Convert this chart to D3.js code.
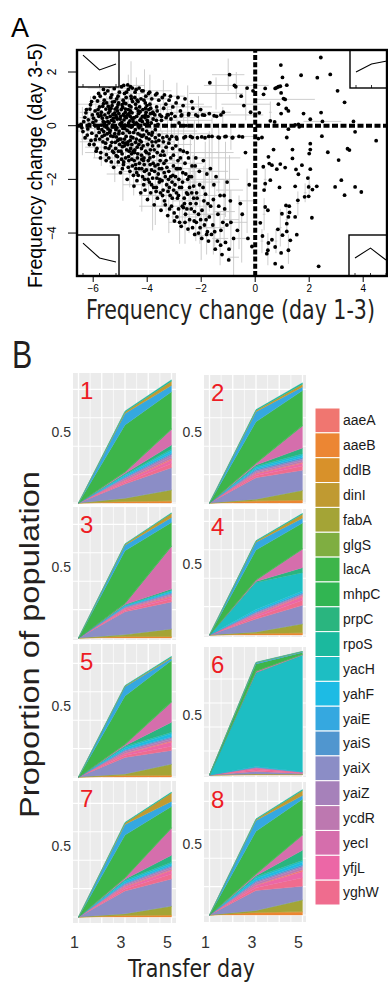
<!DOCTYPE html>
<html>
<head>
    <meta charset="utf-8">
    <title>Frequency change and population proportion</title>
    <script src="https://d3js.org/d3.v7.min.js"></script>
    <style>
        body { margin: 0; background: #fff; }
        svg { display: block; font-family: "Liberation Sans", Arial, sans-serif; }
    </style>
</head>
<body>
    <svg id="fig" width="388" height="984"></svg>

    <script>
        // ---------- panel A: frequency change scatter ----------
        const xTicksA = [-6, -4, -2, 0, 2, 4];
        const yTicksA = [2, 0, -2, -4];

        // dense cloud (day 1-3 change, day 3-5 change)
        const cloudPoints = [
            [-6.45,0.05],[-6.38,-0.22],[-6.31,0.31],[-6.42,-0.08],[-6.27,0.48],[-6.35,0.15],
            [-6.22,-0.35],[-6.18,0.22],[-6.12,0.62],[-6.08,-0.55],[-6.15,0.05],[-6.03,0.4],[-6.2,-0.12],[-6.05,-0.28],[-6.1,0.78],[-6.01,0.12],
            [-5.97,-0.7],[-5.93,0.55],[-5.9,0.18],[-5.88,-0.38],[-5.84,0.92],[-5.81,-0.1],[-5.79,0.35],[-5.95,0.02],[-5.86,-0.85],[-5.77,0.7],[-5.92,-0.52],[-5.83,0.44],[-5.78,-0.25],[-5.99,0.28],
            [-5.74,1.1],[-5.72,-1.0],[-5.7,0.5],[-5.68,-0.15],[-5.66,0.28],[-5.64,-0.6],[-5.62,0.82],[-5.6,0.05],[-5.58,-0.35],[-5.56,1.2],[-5.55,-0.82],[-5.53,0.62],[-5.52,-0.05],[-5.71,0.38],[-5.67,-0.4],[-5.59,0.95],[-5.63,0.15],[-5.51,-1.08],
            [-5.49,0.3],[-5.47,-0.5],[-5.46,1.3],[-5.44,0.72],[-5.42,-1.2],[-5.41,0.1],[-5.39,-0.25],[-5.38,0.55],[-5.36,-0.75],[-5.35,1.05],[-5.33,-1.35],[-5.32,0.2],[-5.3,-0.05],[-5.29,0.88],[-5.28,-0.95],[-5.27,0.42],[-5.26,-0.4],[-5.45,-0.12],[-5.37,0.35],[-5.31,-0.62],[-5.4,1.48],[-5.34,0.65],
            [-5.24,-1.55],[-5.23,0.15],[-5.22,1.38],[-5.2,-0.3],[-5.19,0.62],[-5.17,-0.85],[-5.16,0.38],[-5.15,-1.12],[-5.13,1.0],[-5.12,-0.08],[-5.11,0.25],[-5.09,-0.55],[-5.08,0.78],[-5.07,-1.35],[-5.05,0.45],[-5.04,-0.2],[-5.03,1.25],[-5.02,-0.7],[-5.01,0.05],[-5.21,0.9],[-5.14,-0.42],[-5.1,0.55],[-5.06,-0.95],[-5.18,1.55],
            [-4.99,-1.75],[-4.98,0.35],[-4.97,-0.5],[-4.95,1.45],[-4.94,0.12],[-4.93,-1.05],[-4.91,0.68],[-4.9,-0.28],[-4.89,0.95],[-4.88,-1.45],[-4.86,0.22],[-4.85,-0.75],[-4.84,1.2],[-4.83,-0.1],[-4.81,0.5],[-4.8,-1.2],[-4.79,0.82],[-4.78,-0.4],[-4.77,0.3],[-4.76,-0.9],[-4.96,0.6],[-4.92,-1.6],[-4.87,1.5],[-4.82,0.02],[-4.9,-0.62],[-4.78,1.05],
            [-4.74,-2.0],[-4.73,0.4],[-4.71,-0.6],[-4.7,1.35],[-4.69,0.1],[-4.68,-1.3],[-4.66,0.75],[-4.65,-0.25],[-4.64,-1.7],[-4.62,0.55],[-4.61,-0.85],[-4.6,1.1],[-4.59,-0.05],[-4.58,-1.05],[-4.56,0.28],[-4.55,-1.5],[-4.54,0.9],[-4.53,-0.45],[-4.52,0.15],[-4.51,-1.85],[-4.72,1.52],[-4.67,-0.95],[-4.63,0.35],[-4.57,-0.7],[-4.7,0.6],[-4.55,1.4],
            [-4.49,-2.25],[-4.48,0.3],[-4.46,-0.9],[-4.45,1.25],[-4.44,-0.15],[-4.42,-1.6],[-4.41,0.65],[-4.4,-0.5],[-4.38,-2.05],[-4.37,0.95],[-4.36,-1.2],[-4.35,0.05],[-4.33,-1.85],[-4.32,0.45],[-4.31,-0.7],[-4.3,1.4],[-4.29,-1.4],[-4.27,0.2],[-4.26,-0.35],[-4.47,-1.0],[-4.43,0.8],[-4.39,-1.75],[-4.34,-0.3],[-4.28,0.7],
            [-4.24,-2.5],[-4.23,0.25],[-4.21,-1.1],[-4.2,1.3],[-4.19,-0.4],[-4.17,-1.9],[-4.16,0.6],[-4.15,-0.75],[-4.13,-2.2],[-4.12,0.95],[-4.11,-1.45],[-4.09,0.05],[-4.08,-2.4],[-4.07,0.4],[-4.06,-0.95],[-4.05,1.1],[-4.03,-1.65],[-4.02,-0.2],[-4.01,0.75],[-4.22,-0.6],[-4.18,0.15],[-4.14,-1.3],[-4.1,-2.0],[-4.04,0.5],
            [-3.99,-2.75],[-3.97,0.35],[-3.96,-1.3],[-3.95,1.2],[-3.93,-0.5],[-3.92,-2.1],[-3.9,0.8],[-3.88,-0.9],[-3.87,-2.5],[-3.85,0.1],[-3.84,-1.65],[-3.83,1.0],[-3.81,-0.25],[-3.8,-1.95],[-3.79,0.5],[-3.77,-1.15],[-3.76,-2.3],[-3.98,-0.7],[-3.94,0.6],[-3.89,-1.45],[-3.82,-0.6],[-3.78,0.25],
            [-3.74,-2.95],[-3.72,0.4],[-3.71,-1.5],[-3.69,1.15],[-3.68,-0.6],[-3.66,-2.3],[-3.65,0.7],[-3.63,-1.0],[-3.62,-2.7],[-3.6,0.05],[-3.59,-1.8],[-3.57,0.95],[-3.56,-0.35],[-3.55,-2.1],[-3.53,0.4],[-3.52,-1.3],[-3.7,-0.15],[-3.64,-1.95],[-3.58,-0.75],[-3.51,-2.5],
            [-3.49,-3.15],[-3.47,0.35],[-3.46,-1.6],[-3.44,1.05],[-3.42,-0.45],[-3.41,-2.4],[-3.39,0.65],[-3.37,-1.1],[-3.36,-2.8],[-3.34,0.0],[-3.33,-1.9],[-3.31,0.8],[-3.3,-0.8],[-3.28,-2.2],[-3.27,-0.4],[-3.45,-2.05],[-3.38,-1.4],[-3.26,0.4],
            [-3.24,-3.35],[-3.22,0.4],[-3.2,-1.7],[-3.19,0.95],[-3.17,-0.5],[-3.15,-2.6],[-3.13,-1.2],[-3.12,0.25],[-3.1,-3.0],[-3.08,-2.1],[-3.06,-0.85],[-3.05,0.7],[-3.03,-1.5],[-3.02,-2.4],[-3.21,-2.0],[-3.09,-0.4],
            [-2.99,-3.55],[-2.97,0.35],[-2.95,-1.9],[-2.93,0.85],[-2.9,-0.5],[-2.88,-2.7],[-2.86,-1.3],[-2.84,-3.1],[-2.82,0.1],[-2.8,-2.3],[-2.78,-0.9],[-2.77,0.55],[-2.92,-1.6],[-2.83,-2.0],
            [-2.74,-3.75],[-2.72,0.4],[-2.69,-2.1],[-2.67,0.75],[-2.64,-0.45],[-2.62,-2.9],[-2.6,-1.4],[-2.58,-3.3],[-2.56,0.0],[-2.54,-2.5],[-2.52,-1.0],[-2.68,-1.75],
            [-2.49,-3.85],[-2.46,0.45],[-2.43,-2.3],[-2.4,-0.4],[-2.37,-3.1],[-2.34,-1.5],[-2.31,0.65],[-2.28,-2.7],[-2.26,-3.55],[-2.45,-1.9],
            [-2.24,-4.05],[-2.2,0.4],[-2.17,-2.5],[-2.14,-0.45],[-2.1,-3.3],[-2.07,-1.7],[-2.04,-3.8],[-2.02,0.6],[-2.19,-2.9],
            [-1.98,-4.2],[-1.95,0.4],[-1.9,-2.8],[-1.86,-0.45],[-1.82,-3.5],[-1.79,-1.8],[-1.77,-3.95],[-1.93,-2.3],
            [-1.73,-4.3],[-1.7,0.45],[-1.65,-3.0],[-1.6,-0.4],[-1.57,-3.7],[-1.53,-2.2],[-1.68,1.6],
            [-1.48,-4.6],[-1.43,0.35],[-1.38,-3.3],[-1.33,-0.45],[-1.3,-2.6],[-1.27,-3.9],
            [-1.23,-4.8],[-1.18,0.5],[-1.13,-3.1],[-1.08,-0.4],[-1.04,-2.1],[-1.1,-4.35],
            [-0.98,-5.0],[-0.95,1.9],[-0.9,-3.6],[-0.85,-0.45],[-0.8,-4.2],[-0.77,1.5],
            [-0.72,1.45],[-0.66,-3.9],[-0.6,-0.4],[-0.55,-2.9],[-0.52,1.1],
            [-0.48,-3.3],[-0.42,0.75],[-0.36,-1.0],[-0.3,1.4],[-0.27,-4.2],
            [-0.22,-2.2],[-0.17,0.5],[-0.12,-4.5],[-0.08,1.3],
            [-5.58,0.12],[-5.48,-0.3],[-5.43,0.48],[-5.37,-0.18],[-5.25,0.28],[-5.18,-0.62],[-5.12,0.68],[-5.05,-0.3],[-4.98,0.08],[-4.92,-0.78],
            [-4.88,0.42],[-4.84,-0.5],[-4.8,0.62],[-4.74,-0.18],[-4.69,-1.15],[-4.64,0.18],[-4.6,-0.42],[-4.56,0.48],[-4.52,-0.95],[-4.47,0.05],
            [-4.43,-0.62],[-4.39,0.35],[-4.35,-1.05],[-4.3,-0.08],[-4.26,0.52],[-4.21,-0.85],[-4.17,-0.15],[-4.12,-1.2],[-4.08,0.3],[-4.03,-0.45],
            [-3.98,0.12],[-3.93,-1.05],[-3.88,0.45],[-3.83,-0.35],[-3.78,-1.4],[-5.3,0.75],[-5.22,-0.05],[-5.08,1.1],[-4.95,-1.25],[-4.86,0.85],
            [-4.72,-0.7],[-4.58,1.0],[-4.48,-1.3],[-4.34,0.9],[-4.2,-1.6],[-4.06,0.65],[-3.92,-1.8],[-3.74,-0.9],[-3.66,0.2],[-3.55,-1.6],
            [-3.42,-0.95],[-3.3,-1.3],[-3.18,-2.3],[-3.05,-1.85],[-2.92,-2.5],[-2.78,-1.6],[-2.66,-3.05],[-2.5,-2.0],[-2.35,-2.5],[-2.2,-1.2],
            [-5.82,0.6],[-5.76,-0.5],[-5.7,0.02],[-5.65,0.72],[-5.61,-0.22],[-5.57,0.4],[-5.54,-0.65],[-5.5,0.85],[-5.46,0.15],[-5.42,-0.85],
            [-5.39,0.62],[-5.35,-0.38],[-5.31,1.15],[-5.28,0.02],[-5.24,-1.0],[-5.2,0.48],[-5.16,-0.15],[-5.13,0.3],[-5.1,-1.15],[-5.06,0.85],
            [-5.03,-0.5],[-5.0,0.25],[-4.97,-0.95],[-4.93,0.78],[-4.9,-0.1],[-4.87,-1.35],[-4.83,0.35],[-4.8,-0.65],[-4.77,1.25],[-4.73,0.0],
            [-4.7,-1.55],[-4.67,0.45],[-4.63,-0.55],[-4.6,0.7],[-4.57,-1.25],[-4.53,0.25],[-4.5,-0.25],[-4.46,1.05],[-4.43,-1.45],[-4.4,0.1],
            [-4.37,-0.8],[-4.33,0.55],[-4.3,-1.6],[-4.27,-0.55],[-4.23,1.0],[-4.2,-1.25],[-4.17,0.35],[-4.13,-0.35],[-4.1,-1.7],[-4.07,0.85],
            [-4.03,-1.0],[-4.0,0.2],[-3.97,-2.0],[-3.94,-0.3],[-3.9,-1.2],[-3.87,0.65],[-3.84,-2.2],[-3.8,-0.75],[-3.77,0.45],[-3.73,-1.7],
            [-3.7,-0.45],[-3.67,-2.45],[-3.63,0.55],[-3.6,-1.45],[-3.57,-0.55],[-3.53,-2.0],[-3.5,-1.1],[-3.47,0.2],[-3.43,-2.6],[-3.4,-0.6],
            [-3.37,-1.75],[-3.33,-2.95],[-3.3,0.3],[-3.27,-1.55],[-3.23,-2.45],[-3.2,-0.65],[-3.17,-3.1],[-3.13,-1.9],[-3.1,0.45],[-3.07,-2.7],
            [-3.03,-1.1],[-3.0,-3.25],[-2.97,-2.2],[-2.94,-0.75],[-2.9,-3.4],[-2.87,-1.6],[-2.84,-2.6],[-2.8,-3.6],[-2.77,-1.2],[-2.73,-2.3],
            [-2.7,-3.0],[-2.66,-0.95],[-2.63,-2.7],[-2.6,-3.6],[-2.57,-1.8],[-2.53,-3.1],[-2.5,-2.55],[-2.47,-1.2],[-2.43,-3.5],[-2.4,-2.9],
            [-2.36,-1.9],[-2.32,-3.8],[-2.28,-2.25],[-2.25,-3.2],[-2.22,-1.5],[-2.18,-3.6],[-2.15,-2.7],[-2.1,-4.0],[-2.06,-2.2],[-2.02,-3.5],
            [-1.97,-3.15],[-1.92,-1.3],[-1.88,-3.7],[-1.84,-2.55],[-1.8,-4.05],[-1.75,-2.9],[-1.7,-3.4],[-1.66,-1.6],[-1.62,-4.05],[-1.55,-2.75],
            [-1.5,-3.95],[-1.45,-1.9],[-1.4,-4.3],[-1.35,-3.0],[-1.28,-4.45],[-1.2,-3.6],[-1.15,-2.6],[-1.05,-3.7],[-0.97,-4.6],[-0.92,-2.8],
            [-6.3,-0.45],[-6.25,0.6],[-6.14,-0.7],[-6.06,0.9],[-5.96,1.05],[-5.89,-0.95],[-5.8,1.2],[-5.73,-1.2],[-5.62,1.35],[-5.52,-1.3],
            [-4.62,1.45],[-4.41,1.35],[-4.15,1.3],[-3.91,1.25],[-3.64,1.2],[-3.36,1.15],[-3.14,1.1],[-2.86,1.05],[-2.6,1.0],[-2.35,0.9],
            [-2.74,0.37],[-2.47,0.4],[-2.13,0.36],[-1.88,0.39],[-1.52,0.37],[-1.27,0.4],[-2.92,-0.43],[-2.58,-0.41],[-2.33,-0.44],[-1.98,-0.42],
            [-1.72,-0.4],[-1.37,-0.43],[-1.12,-0.41],[-0.83,-0.44],[-0.47,-0.42]
        ];

        const rightPoints = [
            [2.43,2.54],[0.95,2.26],[1.70,1.88],[1.01,1.80],[2.30,1.79],[2.78,1.91],[0.37,1.39],[0.74,1.39],[0.80,1.42],[0.86,1.45],
            [0.93,1.47],[1.17,1.51],[0.96,1.22],[0.31,1.17],[3.05,1.30],[1.11,0.98],[1.05,1.01],[0.86,0.80],[3.31,0.87],[0.15,0.48],
            [0.96,0.45],[1.15,0.64],[1.23,0.55],[1.79,0.45],[2.44,0.49],[2.04,0.24],[0.56,0.18],[0.72,0.14],[1.48,0.03],[1.60,0.05],
            [1.23,-0.13],[1.63,-0.04],[2.49,0.16],[3.64,0.16],[3.70,-0.23],[0.25,-0.44],[1.17,-0.44],[4.48,-0.56],[2.47,-0.39],[2.04,-0.67],
            [0.12,-0.48],[0.68,-0.89],[2.04,-0.89],[2.00,-1.04],[1.38,-0.89],[2.69,-0.99],[3.42,-0.86],[3.49,-0.91],[0.49,-1.16],[1.38,-1.22],
            [0.52,-1.41],[0.62,-1.47],[0.30,-1.53],[0.93,-1.43],[1.11,-1.56],[0.80,-1.62],[1.51,-1.63],[1.73,-1.47],[1.60,-1.81],[2.04,-1.62],
            [3.09,-1.28],[0.37,-2.16],[0.56,-2.03],[0.90,-2.30],[1.48,-2.26],[1.95,-1.95],[1.98,-2.28],[2.28,-2.26],[2.96,-2.28],[3.31,-2.59],
            [3.70,-2.28],[3.93,-2.47],[3.19,-2.03],[0.33,-2.40],[0.37,-3.03],[0.47,-3.15],[1.26,-3.00],[1.14,-2.97],[0.99,-3.28],[1.27,-3.23],
            [1.23,-3.40],[1.58,-2.78],[1.83,-2.65],[1.98,-2.63],[2.12,-2.38],[2.10,-3.43],[0.19,-3.62],[1.17,-3.65],[1.48,-3.40],[0.84,-3.86],
            [1.17,-3.94],[1.01,-4.08],[1.54,-4.06],[0.27,-4.11],[0.62,-4.25],[0.49,-4.37],[0.74,-4.52],[1.30,-4.27],[1.23,-4.64],[0.47,-4.64],
            [0.43,-4.77],[0.96,-4.74],[0.74,-5.14],[0.99,-5.27],[2.35,-5.24]
        ];

        // error bars: x, y, half-width in x, half-width in y
        const errorBars = [
            [-5.9,0.3,0.6,0.8],[-5.6,-0.6,0.9,0.7],[-5.4,0.9,0.7,1.0],[-5.2,-1.2,0.8,0.9],[-5.0,0.5,1.0,0.8],
            [-4.8,-0.3,1.1,1.0],[-4.7,1.2,0.6,0.7],[-4.5,-1.5,0.9,1.1],[-4.3,0.6,1.2,0.6],[-4.2,-2.2,0.7,1.0],
            [-4.0,-0.8,1.0,1.2],[-3.9,1.0,0.8,0.9],[-3.7,-2.6,0.6,1.1],[-3.6,-1.3,0.9,0.9],[-3.5,0.3,1.3,0.5],
            [-3.3,-2.0,0.7,1.2],[-3.2,-3.0,0.5,1.0],[-3.0,-1.0,0.8,1.1],[-2.9,0.8,1.0,0.8],[-2.7,-2.4,0.6,1.3],
            [-2.6,-3.4,0.5,1.0],[-2.4,-1.6,0.7,1.2],[-2.2,-3.0,0.4,1.3],[-2.1,0.5,1.2,0.6],[-1.9,-2.6,0.5,1.1],
            [-1.8,-3.8,0.3,1.0],[-1.6,-1.0,0.8,1.3],[-1.5,-3.3,0.4,1.2],[-1.3,-4.2,0.3,1.0],[-1.1,-2.0,0.5,1.4],
            [-0.9,-3.5,0.3,1.1],[-0.7,1.5,1.2,0.5],[-0.5,-4.2,0.2,0.9],[-0.3,-2.8,0.3,1.2],[-6.2,0.1,0.5,0.6],
            [-6.4,-0.2,0.3,0.9],[-5.3,1.4,0.9,0.6],[-4.9,-1.8,0.6,1.0],[-4.6,1.5,0.5,0.9],[-4.1,1.3,1.0,0.8],
            [-3.8,-3.0,0.5,0.9],[-3.4,1.1,0.8,0.6],[-2.8,-3.6,0.4,0.8],[-2.5,0.7,0.9,0.8],[-2.0,-4.1,0.3,0.9],
            [-1.2,0.4,1.5,0.3],[-1.0,1.9,0.6,0.6],[-0.8,-4.9,0.2,0.7],[-5.7,-1.0,0.6,0.5],[-5.1,-0.1,1.3,1.4],
            [-4.4,-0.6,1.4,1.3],[-3.95,-1.7,1.1,1.1],[-3.1,0.2,1.5,0.6],[-2.3,-2.1,1.0,1.0],[-1.7,-1.7,0.7,1.5],
            [-5.5,0.0,0.8,1.1],[-5.3,-0.8,1.0,0.7],[-5.05,1.0,0.7,0.9],[-4.85,0.2,1.3,0.6],[-4.65,-1.0,0.9,1.3],
            [-4.4,1.0,1.1,0.8],[-4.25,-0.3,1.0,1.1],[-4.05,-1.4,1.2,0.9],[-3.85,0.3,0.9,1.0],[-3.65,-0.7,1.3,1.2],
            [-3.45,-1.6,0.8,1.4],[-3.25,-0.2,1.1,0.9],[-3.05,-2.4,0.7,1.2],[-2.85,-1.4,0.9,1.3],[-2.65,-0.3,1.0,0.8],
            [-2.45,-2.8,0.6,1.2],[-2.25,-1.0,0.9,1.2],[-2.05,-3.3,0.5,1.1],[-1.85,-2.0,0.7,1.4],[-1.55,-3.8,0.4,1.0],
            [-1.35,-1.2,0.8,1.3],[-1.15,-3.2,0.4,1.2],[-0.95,-2.4,0.5,1.3],[-0.6,-3.6,0.3,1.0],[-0.35,0.8,0.9,0.6],
            [-5.95,-0.5,0.5,0.7],[-6.1,0.5,0.4,0.6],[-5.75,0.8,0.9,0.6],[-1.45,1.2,1.0,0.6],[-0.9,-0.4,1.0,0.5],
            [0.25,-4.3,0.05,0.45],[0.47,-4.6,0.05,0.6],[0.77,-4.3,0.05,0.45],[1.17,-3.5,0.05,0.5],[1.23,-4.6,0.05,0.55],
            [1.58,-2.9,0.05,0.45],[1.85,-2.5,0.05,0.35],[2.0,-2.2,0.05,0.35],[0.56,0.5,0.05,0.4],[0.37,-2.0,0.05,0.4],
            [1.11,0.98,1.1,0.05],[2.49,0.16,0.7,0.05],[0.33,-3.3,0.05,0.6],[0.93,-3.8,0.05,0.7]
        ];

        // small trajectory insets (relative frequency at day 1, 3, 5)
        const insetDays = [1, 3, 5];
        const insetTopLeft = [0.86, 0.46, 0.62];
        const insetTopRight = [0.42, 0.63, 0.71];
        const insetBottomLeft = [0.80, 0.44, 0.34];
        const insetBottomRight = [0.44, 0.68, 0.39];

        // ---------- panel B: stacked proportions ----------
        const genes = ["aaeA","aaeB","ddlB","dinI","fabA","glgS","lacA","mhpC","prpC","rpoS",
                       "yacH","yahF","yaiE","yaiS","yaiX","yaiZ","ycdR","yecI","yfjL","yghW"];
        const geneColors = ["#F07670","#EC8633","#D8912A","#C09A31","#A4A436","#7FAE41","#3DB54A","#31B552","#2AB57F","#1BB99E",
                            "#1DBEC3","#1DBBE4","#35A8E0","#5096CF","#8B8DC6","#A681BA","#BD78B0","#D56EAC","#EC67A6","#EF6C8E"];
        // bottom to top
        const stackOrder = ["aaeB","ddlB","fabA","glgS","yaiX","yghW","yfjL","aaeA","ycdR","yaiZ",
                            "yaiS","yahF","yacH","prpC","yecI","mhpC","lacA","yaiE","dinI","rpoS"];
        const days = [1, 3, 5];
        const dayTicks = [1, 3, 5];
        const panelNames = ["1","2","3","4","5","6","7","8"];

        // proportion per gene (legend order) at day 1, 3, 5
        const panel1 = [[0,0.005,0.008],[0,0.008,0.01],[0,0.003,0.005],[0,0.01,0.03],[0,0.02,0.075],[0,0.002,0.003],[0,0.33,0.26],[0,0.003,0.005],[0,0.006,0.03],[0,0.008,0.01],
                        [0,0.008,0.012],[0,0.01,0.015],[0,0.08,0.045],[0,0.005,0.01],[0,0.10,0.155],[0,0.008,0.015],[0,0.01,0.015],[0,0.01,0.11],[0,0.01,0.025],[0,0.012,0.03]];
        const panel2 = [[0,0.005,0.006],[0,0.012,0.018],[0,0.003,0.004],[0,0.01,0.02],[0,0.01,0.065],[0,0.002,0.003],[0,0.29,0.245],[0,0.003,0.005],[0,0.008,0.04],[0,0.006,0.01],
                        [0,0.01,0.012],[0,0.012,0.015],[0,0.07,0.025],[0,0.008,0.01],[0,0.15,0.14],[0,0.01,0.012],[0,0.01,0.012],[0,0.012,0.155],[0,0.012,0.02],[0,0.015,0.03]];
        const panel3 = [[0,0.004,0.006],[0,0.008,0.008],[0,0.002,0.003],[0,0.006,0.028],[0,0.012,0.05],[0,0.002,0.003],[0,0.37,0.165],[0,0.002,0.004],[0,0.004,0.01],[0,0.004,0.005],
                        [0,0.004,0.006],[0,0.006,0.01],[0,0.04,0.035],[0,0.004,0.006],[0,0.16,0.19],[0,0.006,0.008],[0,0.006,0.01],[0,0.006,0.30],[0,0.008,0.015],[0,0.01,0.02]];
        const panel4 = [[0,0.004,0.006],[0,0.008,0.012],[0,0.002,0.004],[0,0.006,0.028],[0,0.01,0.06],[0,0.002,0.003],[0,0.21,0.18],[0,0.003,0.004],[0,0.006,0.035],[0,0.005,0.006],
                        [0,0.19,0.13],[0,0.015,0.012],[0,0.055,0.035],[0,0.006,0.008],[0,0.09,0.13],[0,0.008,0.006],[0,0.008,0.008],[0,0.01,0.13],[0,0.012,0.025],[0,0.015,0.035]];
        const panel5 = [[0,0.004,0.008],[0,0.008,0.01],[0,0.002,0.003],[0,0.005,0.008],[0,0.01,0.075],[0,0.002,0.003],[0,0.34,0.29],[0,0.003,0.005],[0,0.006,0.07],[0,0.004,0.006],
                        [0,0.01,0.012],[0,0.012,0.02],[0,0.065,0.015],[0,0.006,0.008],[0,0.115,0.095],[0,0.008,0.01],[0,0.01,0.012],[0,0.008,0.14],[0,0.012,0.03],[0,0.015,0.03]];
        const panel6 = [[0,0.002,0.001],[0,0.004,0.003],[0,0.002,0.001],[0,0.002,0.002],[0,0.002,0.002],[0,0.001,0.001],[0,0.06,0.015],[0,0.002,0.001],[0,0.004,0.003],[0,0.002,0.002],
                        [0,0.78,0.97],[0,0.003,0.002],[0,0.01,0.006],[0,0.002,0.001],[0,0.02,0.006],[0,0.004,0.002],[0,0.006,0.002],[0,0.01,0.004],[0,0.012,0.003],[0,0.012,0.004]];
        const panel7 = [[0,0.004,0.006],[0,0.008,0.01],[0,0.003,0.004],[0,0.01,0.06],[0,0.01,0.06],[0,0.002,0.003],[0,0.30,0.15],[0,0.003,0.004],[0,0.006,0.05],[0,0.005,0.006],
                        [0,0.01,0.01],[0,0.012,0.012],[0,0.075,0.035],[0,0.006,0.008],[0,0.16,0.19],[0,0.008,0.01],[0,0.01,0.012],[0,0.008,0.19],[0,0.012,0.025],[0,0.015,0.035]];
        const panel8 = [[0,0.005,0.01],[0,0.015,0.02],[0,0.003,0.004],[0,0.008,0.035],[0,0.012,0.08],[0,0.002,0.003],[0,0.30,0.25],[0,0.003,0.005],[0,0.008,0.07],[0,0.005,0.008],
                        [0,0.012,0.012],[0,0.015,0.02],[0,0.075,0.025],[0,0.008,0.01],[0,0.14,0.095],[0,0.01,0.012],[0,0.012,0.015],[0,0.01,0.105],[0,0.015,0.045],[0,0.02,0.06]];
        const panels = [panel1, panel2, panel3, panel4, panel5, panel6, panel7, panel8];

        const svg = d3.select("#fig");
        const defs = svg.append("defs");

        // ================= A =================
        const xA = d3.scaleLinear().domain([-6.6, 4.9]).range([77, 387.5]);
        const yA = d3.scaleLinear().domain([-5.6, 2.82]).range([276, 50]);

        defs.append("clipPath").attr("id", "clipA")
            .append("rect").attr("x", 77).attr("y", 50).attr("width", 311).attr("height", 226);

        const plotA = svg.append("g").attr("clip-path", "url(#clipA)");

        const bars = plotA.append("g").attr("stroke", "#c8c8c8").attr("stroke-width", 0.9);
        errorBars.forEach(([x, y, ex, ey]) => {
            bars.append("line")
                .attr("x1", xA(x - ex)).attr("x2", xA(x + ex))
                .attr("y1", yA(y)).attr("y2", yA(y));
            bars.append("line")
                .attr("x1", xA(x)).attr("x2", xA(x))
                .attr("y1", yA(y - ey)).attr("y2", yA(y + ey));
        });

        plotA.append("g")
            .selectAll("circle")
            .data(cloudPoints.concat(rightPoints))
            .join("circle")
            .attr("cx", d => xA(d[0]))
            .attr("cy", d => yA(d[1]))
            .attr("r", 1.9)
            .attr("fill", "#000");

        // points sitting exactly on zero change form dotted lines
        plotA.append("line")
            .attr("x1", xA(0)).attr("x2", xA(0))
            .attr("y1", yA.range()[0]).attr("y2", yA.range()[1])
            .attr("stroke", "#000").attr("stroke-width", 4)
            .attr("stroke-dasharray", "5 2.2");
        plotA.append("line")
            .attr("x1", xA.range()[0]).attr("x2", 390)
            .attr("y1", yA(0)).attr("y2", yA(0))
            .attr("stroke", "#000").attr("stroke-width", 4)
            .attr("stroke-dasharray", "6 2.5");

        const insets = [
            { vals: insetTopLeft, x: 77, y: 50, w: 42, h: 37 },
            { vals: insetTopRight, x: 350, y: 50, w: 40, h: 38 },
            { vals: insetBottomLeft, x: 77, y: 235, w: 42, h: 41 },
            { vals: insetBottomRight, x: 349, y: 235, w: 40, h: 41 }
        ];
        insets.forEach(b => {
            const g = plotA.append("g");
            g.append("rect")
                .attr("x", b.x).attr("y", b.y).attr("width", b.w).attr("height", b.h)
                .attr("fill", "#fff").attr("stroke", "#000").attr("stroke-width", 1.4);
            const ix = d3.scaleLinear().domain([1, 5]).range([b.x + 6, b.x + b.w - 3]);
            const iy = d3.scaleLinear().domain([0, 1]).range([b.y + b.h, b.y]);
            g.append("path")
                .datum(insetDays.map((d, i) => [d, b.vals[i]]))
                .attr("d", d3.line().x(d => ix(d[0])).y(d => iy(d[1])))
                .attr("fill", "none").attr("stroke", "#000").attr("stroke-width", 1.1);
            insetDays.forEach(d => {
                g.append("line")
                    .attr("x1", ix(d)).attr("x2", ix(d))
                    .attr("y1", b.y + b.h).attr("y2", b.y + b.h - 3)
                    .attr("stroke", "#000").attr("stroke-width", 0.8);
            });
        });

        svg.append("rect")
            .attr("x", 77).attr("y", 50).attr("width", 310).attr("height", 226)
            .attr("fill", "none").attr("stroke", "#000").attr("stroke-width", 2.4);

        const minus = t => t < 0 ? "\u2212" + Math.abs(t) : String(t);

        const axA = svg.append("g");
        xTicksA.forEach(t => {
            axA.append("line")
                .attr("x1", xA(t)).attr("x2", xA(t)).attr("y1", 277).attr("y2", 282)
                .attr("stroke", "#000").attr("stroke-width", 1);
            axA.append("text")
                .attr("x", xA(t)).attr("y", 292)
                .attr("text-anchor", "middle").attr("font-size", 10)
                .text(minus(t));
        });
        yTicksA.forEach(t => {
            axA.append("line")
                .attr("x1", 68).attr("x2", 77).attr("y1", yA(t)).attr("y2", yA(t))
                .attr("stroke", "#000").attr("stroke-width", 1);
            axA.append("text")
                .attr("transform", `translate(56,${yA(t)}) rotate(-90)`)
                .attr("text-anchor", "middle").attr("font-size", 12)
                .text(minus(t));
        });

        svg.append("text").attr("x", 11).attr("y", 37)
            .attr("font-size", 27).text("A");
        svg.append("text")
            .attr("transform", "translate(42,288) rotate(-90)")
            .attr("font-size", 20)
            .attr("textLength", 245).attr("lengthAdjust", "spacingAndGlyphs")
            .text("Frequency change (day 3-5)");
        svg.append("text")
            .attr("transform", "translate(86,319) scale(1,1.15)")
            .attr("font-family", "'Liberation Sans Narrow', 'DejaVu Sans Condensed', sans-serif")
            .attr("font-size", 23).attr("fill", "#231f20")
            .attr("textLength", 289).attr("lengthAdjust", "spacingAndGlyphs")
            .text("Frequency change (day 1-3)");

        // ================= B =================
        svg.append("text")
            .attr("transform", "translate(12,368) scale(0.8,1)")
            .attr("font-family", "'Liberation Sans Narrow', sans-serif")
            .attr("font-size", 38).attr("fill", "#231f20")
            .text("B");

        const boxes = [
            { x: 73, y: 373, w: 103, h: 131, base: 503, ppu: 142 },
            { x: 204, y: 375, w: 102, h: 129, base: 503, ppu: 142 },
            { x: 73, y: 507, w: 103, h: 133, base: 638, ppu: 142 },
            { x: 204, y: 509, w: 102, h: 128, base: 635, ppu: 142 },
            { x: 73, y: 644, w: 103, h: 134, base: 777, ppu: 142 },
            { x: 204, y: 647, w: 102, h: 130, base: 775, ppu: 120 },
            { x: 73, y: 781, w: 103, h: 142, base: 917, ppu: 142 },
            { x: 204, y: 782, w: 102, h: 140, base: 915, ppu: 142 }
        ];
        const colorOf = d3.scaleOrdinal().domain(genes).range(geneColors);
        const gridX = [1, 1.5, 2, 2.5, 3, 3.5, 4, 4.5, 5];
        const gridY = [0, 0.2, 0.4, 0.6, 0.8];

        panels.forEach((vals, i) => {
            const b = boxes[i];
            const x = d3.scaleLinear().domain([1, 5]).range([b.x + 5.5, b.x + 98.5]);
            const y = d3.scaleLinear().domain([0, 1]).range([b.base, b.base - b.ppu]);
            const g = svg.append("g");

            defs.append("clipPath").attr("id", "clipB" + i)
                .append("rect").attr("x", b.x).attr("y", b.y).attr("width", b.w).attr("height", b.h);

            g.append("rect")
                .attr("x", b.x).attr("y", b.y).attr("width", b.w).attr("height", b.h)
                .attr("fill", "#EBEBEB");

            const grid = g.append("g").attr("clip-path", `url(#clipB${i})`).attr("stroke", "#fff");
            gridX.forEach(d => {
                grid.append("line")
                    .attr("x1", x(d)).attr("x2", x(d)).attr("y1", b.y).attr("y2", b.y + b.h)
                    .attr("stroke-width", Number.isInteger(d) ? 1.3 : 0.7);
            });
            gridY.forEach(d => {
                grid.append("line")
                    .attr("x1", b.x).attr("x2", b.x + b.w).attr("y1", y(d)).attr("y2", y(d))
                    .attr("stroke-width", 1.1);
            });

            const rows = days.map((day, k) => {
                const row = { day: day };
                genes.forEach((gname, j) => { row[gname] = vals[j][k]; });
                return row;
            });
            const series = d3.stack().keys(stackOrder)(rows);
            const area = d3.area()
                .x(d => x(d.data.day))
                .y0(d => y(d[0]))
                .y1(d => y(d[1]));

            g.append("g").attr("clip-path", `url(#clipB${i})`)
                .selectAll("path")
                .data(series)
                .join("path")
                .attr("d", area)
                .attr("fill", d => colorOf(d.key))
                .attr("stroke", d => colorOf(d.key))
                .attr("stroke-width", 0.3);

            g.append("text")
                .attr("x", b.x + 7).attr("y", b.y + 26)
                .attr("font-size", 24).attr("fill", "#ED1C24")
                .text(panelNames[i]);

            g.append("text")
                .attr("x", b.x - 2).attr("y", y(0.5)).attr("dy", "0.35em")
                .attr("text-anchor", "end").attr("font-size", 14).attr("fill", "#333")
                .text("0.5");

            if (i >= 6) {
                dayTicks.forEach(d => {
                    g.append("text")
                        .attr("x", x(d) - 4).attr("y", 948)
                        .attr("text-anchor", "middle").attr("font-size", 16).attr("fill", "#333")
                        .text(d);
                });
            }
        });

        svg.append("text")
            .attr("transform", "translate(39,818) rotate(-90)")
            .attr("font-size", 27).attr("fill", "#231f20")
            .attr("textLength", 347).attr("lengthAdjust", "spacingAndGlyphs")
            .text("Proportion of population");

        svg.append("text")
            .attr("x", 128).attr("y", 977)
            .attr("font-family", "'Liberation Sans Narrow', 'DejaVu Sans Condensed', sans-serif")
            .attr("font-size", 25).attr("fill", "#231f20")
            .attr("textLength", 127).attr("lengthAdjust", "spacingAndGlyphs")
            .text("Transfer day");

        // legend
        const keyH = 24.85;
        const legend = svg.append("g").attr("transform", "translate(315,408)");
        genes.forEach((gname, j) => {
            legend.append("rect")
                .attr("x", 0).attr("y", j * keyH)
                .attr("width", 25).attr("height", keyH)
                .attr("fill", colorOf(gname))
                .attr("stroke", "#fff").attr("stroke-width", 1);
            legend.append("text")
                .attr("x", 28).attr("y", j * keyH + keyH / 2).attr("dy", "0.35em")
                .attr("font-size", 14).attr("fill", "#1a1a1a")
                .text(gname);
        });
    </script>
</body>
</html>
